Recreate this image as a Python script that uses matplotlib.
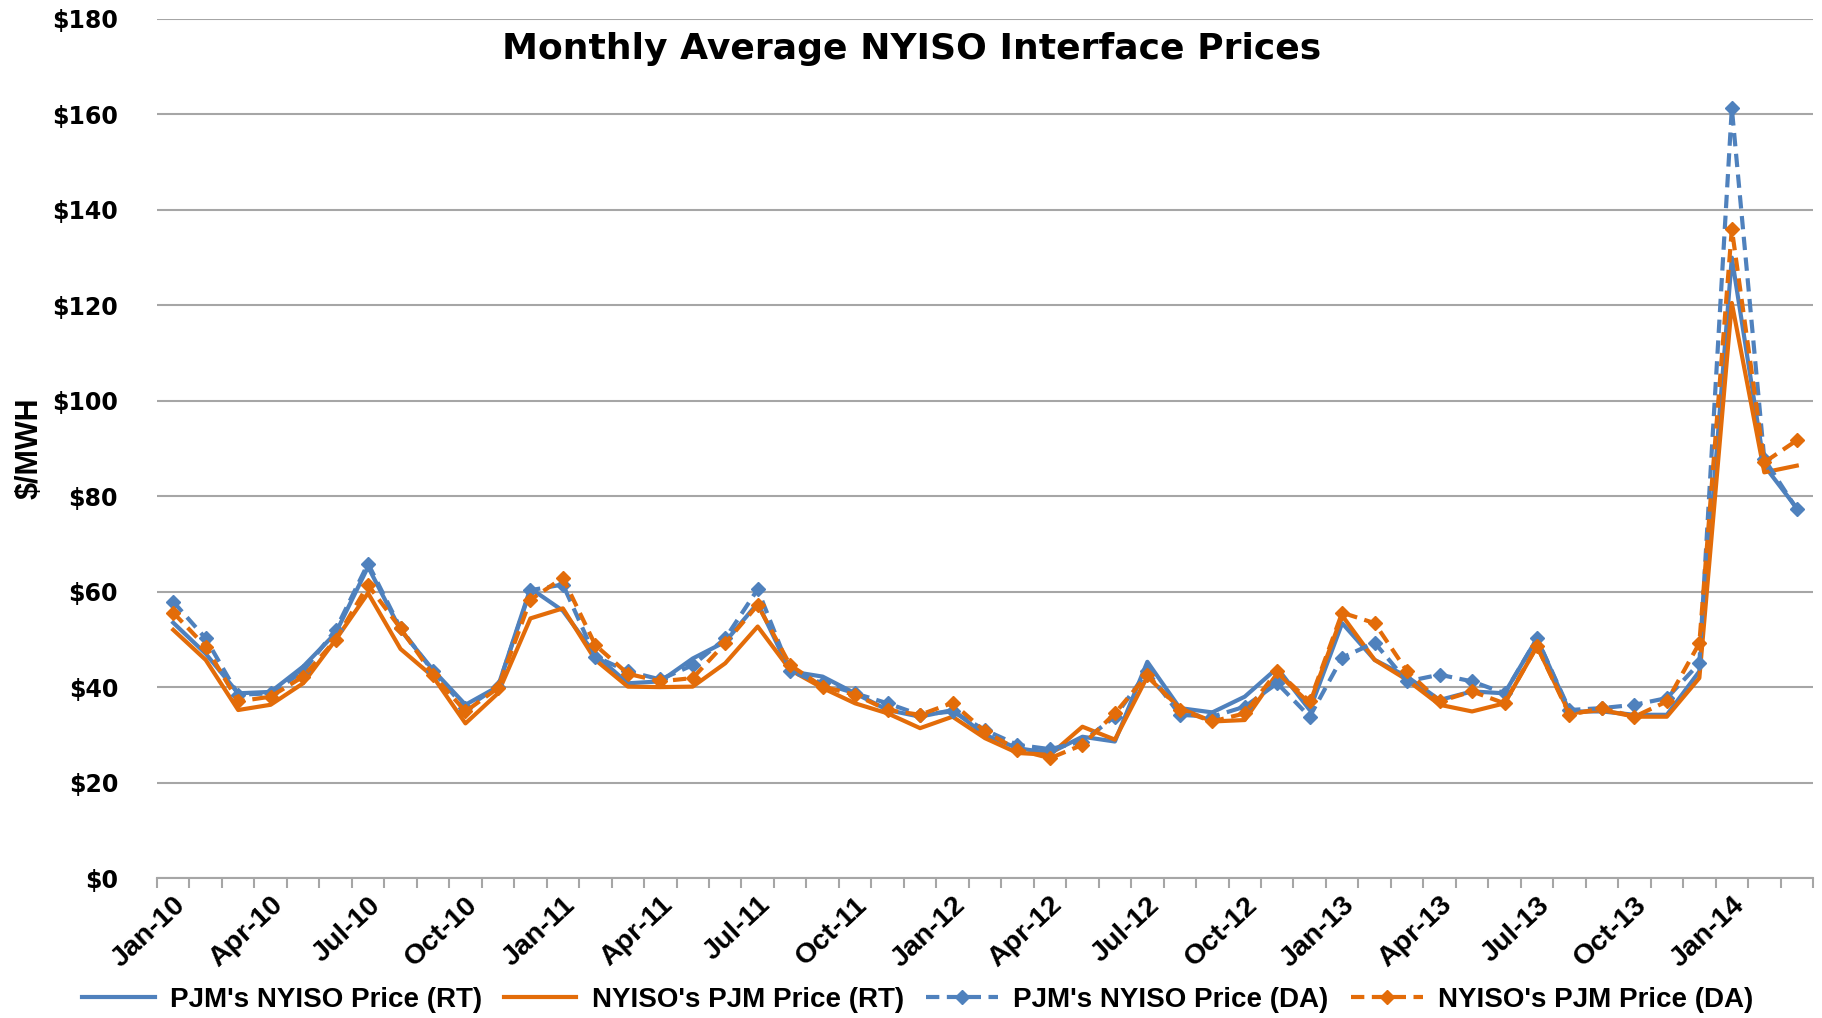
import matplotlib
matplotlib.use("Agg")
import matplotlib.pyplot as plt
import numpy as np

months = ["Jan-10","Feb-10","Mar-10","Apr-10","May-10","Jun-10","Jul-10","Aug-10","Sep-10","Oct-10","Nov-10","Dec-10",
          "Jan-11","Feb-11","Mar-11","Apr-11","May-11","Jun-11","Jul-11","Aug-11","Sep-11","Oct-11","Nov-11","Dec-11",
          "Jan-12","Feb-12","Mar-12","Apr-12","May-12","Jun-12","Jul-12","Aug-12","Sep-12","Oct-12","Nov-12","Dec-12",
          "Jan-13","Feb-13","Mar-13","Apr-13","May-13","Jun-13","Jul-13","Aug-13","Sep-13","Oct-13","Nov-13","Dec-13",
          "Jan-14","Feb-14","Mar-14"]

pjm_rt = [53.5, 47, 38.7, 39, 44.3, 51.3, 65.2, 52, 43.6, 36.3, 40.1, 60.7,
          56, 46.8, 40.8, 41.2, 46, 49.5, 57.6, 43.3, 42.2, 38.7, 35.2, 33.8,
          35.2, 30, 27.2, 26.2, 29.6, 28.6, 45.3, 35.6, 34.7, 38, 44, 35.2,
          53.4, 45.7, 42.2, 37.3, 39.1, 38.7, 50.2, 34.9, 34.9, 34.2, 34.2, 43.3,
          130, 86.4, 77.5]
nyiso_rt = [52, 45.7, 35.2, 36.3, 40.8, 49.9, 59.7, 48, 42.2, 32.4, 38.7, 54.4,
            56.5, 45.7, 40.1, 40, 40.1, 45, 52.7, 43.6, 39.8, 36.6, 34.5, 31.4,
            33.8, 29.3, 26.2, 25.8, 31.7, 29, 42.2, 35.6, 32.8, 33.1, 42.9, 36.6,
            55, 45.7, 41.5, 36.3, 34.9, 36.6, 48.5, 34.5, 35.2, 33.8, 33.8, 41.9,
            120.5, 85, 86.4]
pjm_da = [57.9, 50.2, 38.4, 38.7, 43.3, 52, 65.9, 52.3, 43.3, 35.6, 40.1, 60.3,
          61.5, 46.4, 43.3, 41.6, 44.6, 50.2, 60.5, 43.3, 40.8, 38.7, 36.6, 34.2,
          34.9, 31, 27.9, 27, 28.6, 33.8, 43.3, 34.2, 33.8, 35.9, 40.8, 33.8,
          46.2, 49.3, 41.2, 42.6, 41.2, 38.7, 50.2, 35.2, 35.6, 36.3, 37.7, 45,
          161.3, 87.8, 77.3]
nyiso_da = [55.6, 48.5, 37, 38, 42.2, 49.9, 61.4, 52.3, 42.6, 34.9, 39.8, 58.3,
            62.9, 48.8, 42.8, 41.2, 41.9, 49.2, 57.2, 44.6, 40.1, 38.4, 35.2, 34.2,
            36.7, 30.7, 26.9, 25.1, 27.9, 34.5, 42.6, 35.2, 32.8, 34.5, 43.3, 37,
            55.6, 53.4, 43.3, 37, 39.1, 36.6, 48.6, 34.2, 35.6, 33.8, 37, 49.2,
            136, 87.1, 91.7]

series_names = ["PJM's NYISO Price (RT)", "NYISO's PJM Price (RT)",
                "PJM's NYISO Price (DA)", "NYISO's PJM Price (DA)"]
yticks = [0, 20, 40, 60, 80, 100, 120, 140, 160, 180]

BLUE = "#4F81BD"
ORANGE = "#E36C09"
LBL_FONT = ["Liberation Sans", "DejaVu Sans"]

fig = plt.figure(figsize=(18.22, 10.18), dpi=100)
ax = fig.add_axes([157/1822, 1-878/1018, (1813-157)/1822, (878-19)/1018])

x = np.arange(len(months))
lw = 3.0
ax.plot(x, pjm_rt, color=BLUE, lw=lw, label=series_names[0], zorder=3)
ax.plot(x, nyiso_rt, color=ORANGE, lw=lw, label=series_names[1], zorder=3)
ax.plot(x, pjm_da, color=BLUE, lw=lw, ls=(0, (3.2, 1.8)), marker="D", ms=7.5,
        label=series_names[2], zorder=4)
ax.plot(x, nyiso_da, color=ORANGE, lw=lw, ls=(0, (3.2, 1.8)), marker="D", ms=7.5,
        label=series_names[3], zorder=5)

ax.set_xlim(-0.5, len(months) - 0.5)
ax.set_ylim(0, 180)
ax.set_yticks(yticks)
ax.set_yticklabels([f"${v}" for v in yticks], fontfamily="DejaVu Sans",
                   fontweight="bold", fontsize=17)
ax.yaxis.grid(True, color="#A6A6A6", lw=1.5)
ax.set_axisbelow(True)
ax.tick_params(axis="y", length=0, pad=28)

for s in ["top", "right", "left"]:
    ax.spines[s].set_visible(False)
ax.spines["bottom"].set_color("#A6A6A6")
ax.spines["bottom"].set_linewidth(1.5)

major = x[::3]
ax.set_xticks(major)
ax.set_xticklabels([months[i] for i in major], rotation=43, ha="right", va="top",
                   rotation_mode="anchor", fontfamily=LBL_FONT, fontweight="bold",
                   fontsize=20.5)
ax.tick_params(axis="x", which="major", length=0, pad=10)
ax.set_xticks(np.arange(-0.5, len(months)), minor=True)
ax.tick_params(axis="x", which="minor", length=7, width=1.5, color="#A6A6A6",
               direction="out")

ax.set_ylabel("$/MWH", fontfamily=LBL_FONT, fontweight="bold", fontsize=22)
ax.yaxis.set_label_coords(-(157-45)/1656, 0.5)

fig.text(912/1822, 1-49/1018, "Monthly Average NYISO Interface Prices",
         ha="center", va="center", fontfamily="DejaVu Sans", fontweight="bold",
         fontsize=26)

leg = fig.legend(loc="center", bbox_to_anchor=(918/1822, 1-1000/1018), ncol=4,
                 frameon=False, prop={"family": LBL_FONT, "weight": "bold", "size": 20},
                 handlelength=2.6, handletextpad=0.55, columnspacing=0.8,
                 numpoints=1)

fig.savefig("out.png", dpi=100, facecolor="white")
